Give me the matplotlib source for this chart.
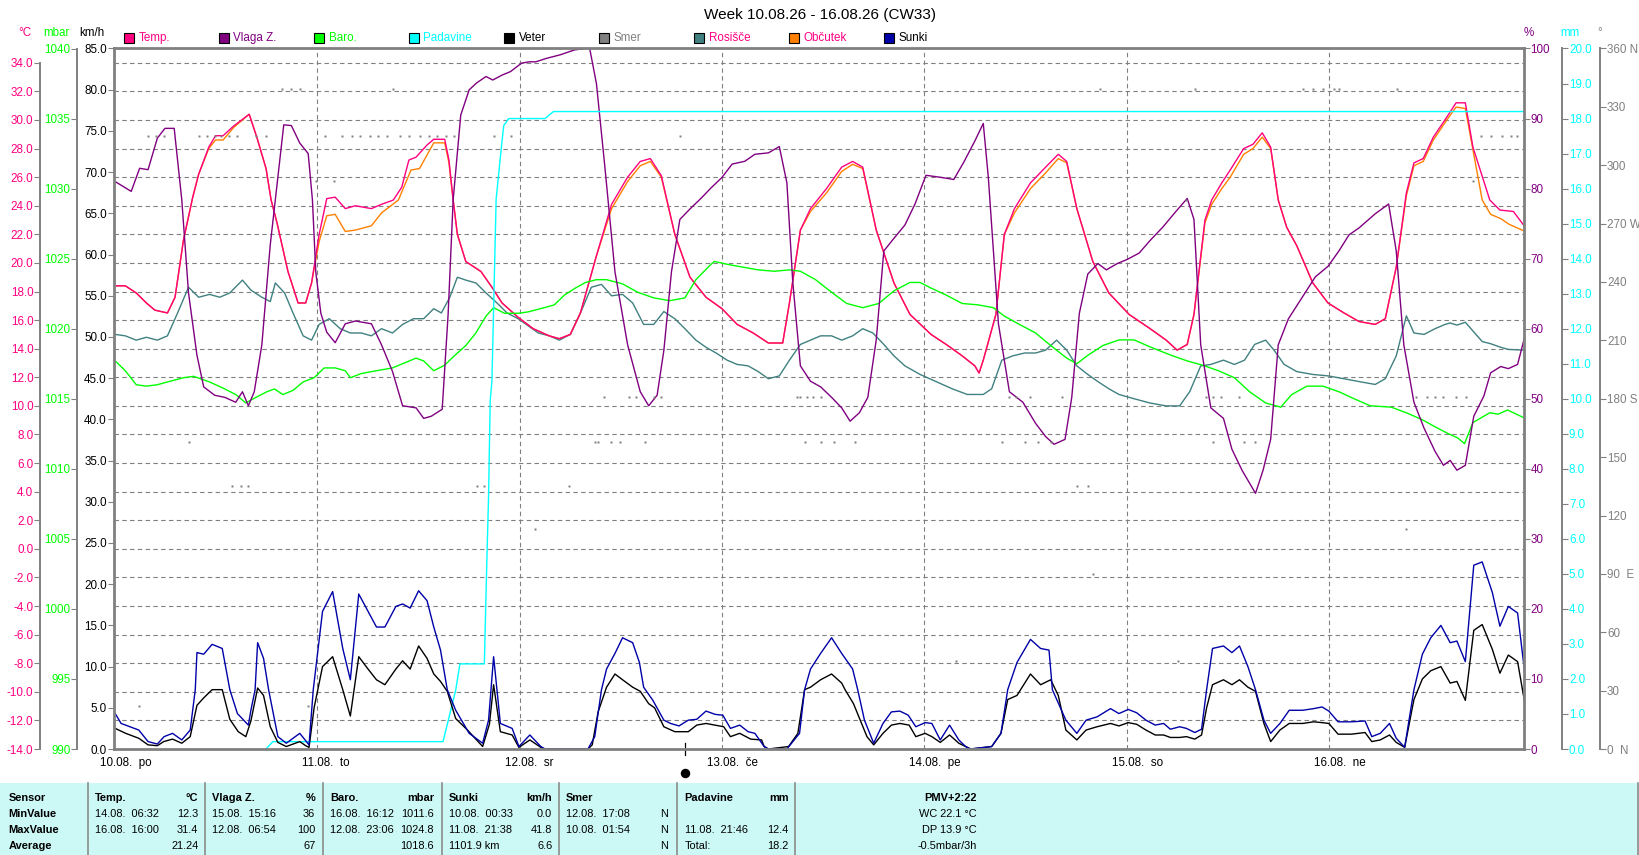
import matplotlib
matplotlib.use('Agg')
import matplotlib.pyplot as plt
import matplotlib.ticker as mticker
from matplotlib.patches import Rectangle
from matplotlib.lines import Line2D
from matplotlib.transforms import blended_transform_factory

plt.rcParams['font.family'] = ['Liberation Sans', 'DejaVu Sans']

# ---------------- data (time = hours since 10.08. 00:00) ----------------
TITLE = 'Week 10.08.26 - 16.08.26 (CW33)'
DAY_LABELS = ['10.08.  po', '11.08.  to', '12.08.  sr', '13.08.  če',
              '14.08.  pe', '15.08.  so', '16.08.  ne']
DAY_START_H = [0, 24, 48, 72, 96, 120, 144]
NEW_MOON_H = 67.6

TEMP = [(0, 18.4), (1.2, 18.4), (2.5, 17.9), (3.7, 17.2), (4.7, 16.7), (6.2, 16.5), (7.1, 17.6),
        (8.1, 21.6), (9.2, 24.6), (9.9, 26.2), (11.1, 28.1), (11.9, 28.9), (12.8, 28.9), (14.1, 29.6),
        (15.9, 30.4), (16.8, 28.8), (17.9, 26.6), (18.5, 24.4), (19.2, 22.8), (20.5, 19.4), (21.7, 17.2),
        (22.6, 17.2), (23.3, 18.6), (24.2, 22.0), (25.1, 24.5), (26.1, 24.6), (27.3, 23.8), (28.5, 24.0),
        (30.4, 23.8), (31.6, 24.1), (33.0, 24.4), (34.0, 25.3), (34.85, 27.2), (35.7, 27.4), (37.0, 28.25),
        (37.8, 28.65), (39.1, 28.65), (39.6, 27.2), (40.1, 24.4), (40.6, 22.0), (41.6, 20.1), (43.4, 19.4),
        (44.7, 18.3), (45.9, 17.2), (47.8, 16.2), (49.6, 15.4), (51.5, 14.9), (52.7, 14.7), (54.0, 15.0),
        (55.2, 16.5), (57.1, 20.5), (58.9, 24.1), (60.8, 26.0), (62.3, 27.1), (63.5, 27.3), (64.8, 26.1),
        (66.4, 22.0), (68.2, 19.0), (70.1, 17.6), (72.0, 16.8), (73.8, 15.7), (75.7, 15.1), (77.5, 14.4),
        (79.2, 14.4), (80.0, 17.2), (81.3, 22.3), (82.5, 23.8), (84.4, 25.2), (86.2, 26.7), (87.5, 27.1),
        (88.7, 26.7), (90.3, 22.3), (92.4, 18.6), (94.3, 16.4), (96.8, 15.0), (98.6, 14.3), (100.5, 13.5),
        (102.0, 12.8), (102.5, 12.3), (103.0, 13.2), (104.5, 16.4), (105.5, 22.0), (106.7, 23.8),
        (108.6, 25.6), (110.4, 26.7), (111.9, 27.6), (112.9, 27.1), (114.1, 23.8), (116.0, 20.1),
        (117.9, 17.9), (120.3, 16.4), (122.8, 15.4), (124.7, 14.6), (126.0, 13.9), (127.2, 14.3),
        (128.0, 16.4), (129.3, 23.0), (130.1, 24.4), (131.3, 25.6), (132.3, 26.5), (133.9, 28.0),
        (135.0, 28.3), (136.1, 29.1), (137.1, 28.1), (138.0, 24.4), (139.0, 22.5), (140.2, 21.2),
        (142.1, 18.6), (143.9, 17.2), (145.8, 16.5), (147.6, 15.9), (149.5, 15.7), (150.7, 16.1),
        (152.0, 19.7), (153.2, 24.9), (154.1, 27.0), (155.2, 27.3), (156.4, 28.8), (158.0, 30.2),
        (159.1, 31.2), (160.2, 31.2), (161.1, 28.1), (163.1, 24.4), (164.3, 23.7), (165.9, 23.6),
        (167.3, 22.5)]

FEEL = [(0, 18.4), (1.2, 18.4), (2.5, 17.9), (3.7, 17.2), (4.7, 16.7), (6.2, 16.5), (7.1, 17.6),
        (8.1, 21.6), (9.2, 24.6), (9.9, 26.2), (11.1, 28.0), (11.9, 28.6), (12.8, 28.6), (14.1, 29.5),
        (15.9, 30.4), (16.8, 28.8), (17.9, 26.6), (18.5, 24.4), (19.2, 22.8), (20.5, 19.4), (21.7, 17.2),
        (22.6, 17.2), (23.3, 18.6), (24.2, 21.5), (25.1, 23.3), (26.1, 23.4), (27.3, 22.2), (28.5, 22.3),
        (30.4, 22.6), (31.6, 23.5), (33.6, 24.4), (35.1, 26.5), (36.1, 26.6), (37.0, 27.55), (37.8, 28.4),
        (39.1, 28.4), (39.6, 27.0), (40.1, 24.4), (40.6, 22.0), (41.6, 20.1), (43.4, 19.4),
        (44.7, 18.3), (45.9, 17.2), (47.8, 16.2), (49.6, 15.4), (51.5, 14.9), (52.7, 14.7), (54.0, 15.0),
        (55.2, 16.5), (57.1, 20.5), (58.9, 23.8), (60.8, 25.7), (62.3, 26.8), (63.5, 27.1), (64.8, 26.0),
        (66.4, 22.0), (68.2, 19.0), (70.1, 17.6), (72.0, 16.8), (73.8, 15.7), (75.7, 15.1), (77.5, 14.4),
        (79.2, 14.4), (80.0, 17.2), (81.3, 22.3), (82.5, 23.6), (84.4, 24.9), (86.2, 26.4), (87.5, 26.9),
        (88.7, 26.6), (90.3, 22.3), (92.4, 18.6), (94.3, 16.4), (96.8, 15.0), (98.6, 14.3), (100.5, 13.5),
        (102.0, 12.8), (102.5, 12.3), (103.0, 13.2), (104.5, 16.4), (105.5, 22.0), (106.7, 23.5),
        (108.6, 25.2), (110.4, 26.3), (111.9, 27.3), (112.9, 27.0), (114.1, 23.8), (116.0, 20.1),
        (117.9, 17.9), (120.3, 16.4), (122.8, 15.4), (124.7, 14.6), (126.0, 13.9), (127.2, 14.3),
        (128.0, 16.4), (129.3, 22.8), (130.1, 24.1), (131.3, 25.2), (132.3, 26.0), (133.9, 27.6),
        (135.0, 28.0), (136.1, 28.8), (137.1, 28.0), (138.0, 24.4), (139.0, 22.5), (140.2, 21.2),
        (142.1, 18.6), (143.9, 17.2), (145.8, 16.5), (147.6, 15.9), (149.5, 15.7), (150.7, 16.1),
        (152.0, 19.7), (153.2, 24.7), (154.1, 26.8), (155.2, 27.1), (156.4, 28.6), (158.0, 30.0),
        (159.1, 30.9), (160.2, 30.8), (162.2, 24.4), (163.2, 23.4), (164.4, 23.1), (165.4, 22.7),
        (167.3, 22.2)]

DEW = [(0, 15.0), (1.2, 14.9), (2.5, 14.6), (3.7, 14.8), (5.0, 14.6), (6.2, 14.9), (7.4, 16.5),
       (8.7, 18.3), (9.9, 17.6), (11.2, 17.8), (12.4, 17.6), (13.6, 17.9), (15.1, 18.8), (16.1, 18.1),
       (17.4, 17.6), (18.4, 17.3), (19.0, 18.6), (20.1, 17.9), (21.1, 16.5), (22.3, 14.9), (23.3, 14.6),
       (24.2, 15.7), (25.4, 16.1), (26.7, 15.4), (27.9, 15.1), (29.2, 15.1), (30.4, 14.9), (31.6, 15.4),
       (32.9, 15.1), (34.1, 15.7), (35.4, 16.1), (36.6, 16.1), (37.8, 16.8), (38.7, 16.5), (39.7, 17.6),
       (40.6, 19.0), (41.6, 18.8), (42.8, 18.6), (44.0, 17.9), (45.3, 17.2), (46.5, 16.5), (47.8, 16.1),
       (49.0, 15.6), (50.2, 15.1), (51.5, 14.9), (52.7, 14.6), (54.0, 15.0), (55.2, 16.5), (56.5, 18.3),
       (57.7, 18.5), (58.9, 17.7), (60.2, 17.8), (61.4, 17.2), (62.7, 15.7), (63.9, 15.7), (65.1, 16.6),
       (66.4, 16.1), (67.6, 15.4), (68.9, 14.6), (70.1, 14.1), (71.3, 13.7), (72.6, 13.2), (73.8, 12.9),
       (75.1, 12.8), (76.3, 12.4), (77.5, 11.9), (78.8, 12.1), (80.0, 13.2), (81.3, 14.3), (82.5, 14.6),
       (83.7, 14.9), (85.0, 14.9), (86.2, 14.6), (87.5, 14.9), (88.7, 15.4), (89.9, 15.1), (91.2, 14.3),
       (92.4, 13.5), (93.7, 12.8), (95.5, 12.2), (97.4, 11.7), (99.3, 11.2), (101.1, 10.8), (103.0, 10.8),
       (104.0, 11.2), (105.2, 13.2), (106.5, 13.5), (107.9, 13.7), (109.2, 13.7), (110.4, 13.9),
       (111.7, 14.6), (112.9, 13.9), (114.1, 12.8), (115.4, 12.2), (116.6, 11.7), (117.9, 11.2),
       (119.1, 10.8), (120.9, 10.5), (122.8, 10.2), (124.7, 10.0), (126.3, 10.0), (127.5, 11.0),
       (128.8, 12.8), (130.0, 12.9), (131.5, 13.2), (132.8, 12.9), (134.0, 13.2), (135.2, 14.3),
       (136.5, 14.6), (137.5, 13.9), (138.7, 12.9), (140.2, 12.4), (142.1, 12.2), (143.9, 12.1),
       (145.8, 11.9), (147.6, 11.7), (149.5, 11.5), (150.7, 11.9), (152.0, 13.5), (153.2, 16.3),
       (154.1, 15.1), (155.3, 15.0), (156.6, 15.4), (157.8, 15.7), (158.4, 15.8), (159.2, 15.65),
       (160.2, 15.85), (162.2, 14.5), (163.2, 14.35), (164.4, 14.1), (165.3, 13.95), (167.3, 13.9)]

HUM = [(0, 81.0), (0.95, 80.3), (1.9, 79.6), (2.9, 82.9), (3.9, 82.7), (5.0, 87.2), (5.9, 88.6),
       (7.0, 88.6), (7.9, 78.4), (8.7, 65.1), (9.7, 56.2), (10.5, 51.7), (11.8, 50.5), (13.0, 50.2),
       (14.3, 49.5), (15.1, 51.0), (15.8, 49.0), (16.5, 51.0), (17.4, 57.7), (18.4, 72.0), (19.0, 78.4),
       (20.0, 89.1), (20.9, 89.0), (21.9, 86.5), (22.9, 85.0), (23.4, 78.4), (23.8, 68.1), (24.4, 62.2),
       (25.1, 59.5), (26.1, 58.0), (27.3, 60.7), (28.5, 61.1), (30.4, 60.7), (31.6, 57.7), (32.9, 53.9),
       (34.1, 49.0), (35.7, 48.7), (36.6, 47.2), (37.5, 47.5), (38.8, 48.5), (39.5, 62.0), (40.1, 78.4),
       (41.0, 90.5), (42.0, 94.1), (42.9, 95.1), (44.0, 96.0), (44.8, 95.5), (45.9, 96.2), (46.9, 96.7),
       (48.2, 97.9), (49.1, 98.1), (49.9, 98.1), (51.2, 98.6), (52.8, 99.1), (54.5, 99.8), (55.8, 100),
       (56.3, 100), (57.1, 95.0), (58.1, 83.1), (59.3, 68.1), (60.8, 57.7), (62.3, 51.0), (63.3, 49.0),
       (64.3, 50.5), (65.1, 56.9), (66.0, 68.1), (67.0, 75.6), (68.2, 77.1), (69.5, 78.6), (70.7, 80.1),
       (72.0, 81.6), (73.2, 83.5), (74.7, 83.9), (75.9, 84.9), (77.5, 85.1), (78.8, 86.0), (79.7, 80.8),
       (80.4, 66.6), (81.3, 54.7), (82.5, 52.5), (83.7, 51.7), (85.0, 50.2), (86.2, 48.7), (87.2, 46.8),
       (88.3, 48.0), (89.3, 50.2), (90.3, 58.4), (91.2, 71.1), (92.4, 72.9), (93.7, 74.8), (94.9, 77.8),
       (96.2, 81.9), (98.0, 81.6), (99.5, 81.3), (100.7, 83.8), (102.0, 86.8), (103.0, 89.3),
       (103.6, 81.6), (104.8, 60.7), (106.1, 51.0), (107.7, 49.5), (109.2, 46.5), (110.4, 44.6),
       (111.4, 43.5), (112.7, 44.2), (113.5, 50.2), (114.4, 62.2), (115.4, 67.8), (116.6, 69.3),
       (117.6, 68.4), (118.9, 69.3), (120.1, 69.9), (121.5, 70.8), (122.8, 72.6), (124.3, 74.5),
       (125.9, 76.8), (127.2, 78.6), (128.0, 75.6), (128.8, 57.7), (130.0, 48.7), (131.5, 47.2),
       (132.5, 42.8), (133.7, 39.8), (135.3, 36.5), (136.2, 39.8), (137.1, 44.2), (138.0, 57.7),
       (139.2, 61.4), (140.8, 64.4), (142.4, 67.4), (143.9, 68.9), (145.2, 71.1), (146.4, 73.4),
       (147.6, 74.4), (149.5, 76.4), (151.1, 77.8), (152.0, 71.1), (152.9, 57.7), (154.1, 49.5),
       (155.3, 45.8), (156.6, 42.5), (157.6, 40.5), (158.4, 41.2), (159.2, 39.8), (160.2, 40.5),
       (161.2, 47.5), (162.4, 50.4), (163.2, 53.7), (164.4, 54.6), (165.3, 54.3), (166.4, 54.9),
       (167.3, 59.1)]

BARO = [(0, 1017.7), (1.2, 1017.0), (2.5, 1016.0), (3.7, 1015.9), (5.0, 1016.0), (6.2, 1016.2),
        (8.1, 1016.5), (9.3, 1016.6), (11.2, 1016.2), (13.0, 1015.7), (14.3, 1015.3), (15.5, 1014.7),
        (16.7, 1015.1), (18.0, 1015.5), (18.9, 1015.7), (19.9, 1015.3), (21.1, 1015.6), (22.3, 1016.2),
        (23.6, 1016.5), (24.8, 1017.2), (26.1, 1017.2), (27.3, 1017.0), (27.9, 1016.5), (29.2, 1016.8),
        (31.0, 1017.0), (32.9, 1017.2), (34.1, 1017.5), (35.7, 1017.9), (36.6, 1017.7), (37.8, 1017.0),
        (39.1, 1017.4), (40.3, 1018.1), (41.6, 1018.8), (42.8, 1019.7), (44.0, 1020.9), (44.9, 1021.5),
        (46.2, 1021.1), (47.8, 1021.1), (49.0, 1021.2), (50.9, 1021.5), (52.1, 1021.7), (53.3, 1022.4),
        (54.6, 1022.9), (55.8, 1023.3), (57.1, 1023.5), (58.3, 1023.5), (60.2, 1023.2), (62.0, 1022.6),
        (63.9, 1022.2), (65.8, 1022.0), (67.6, 1022.2), (68.9, 1023.5), (70.7, 1024.6), (71.1, 1024.8),
        (72.6, 1024.6), (74.4, 1024.4), (76.3, 1024.2), (78.2, 1024.1), (80.0, 1024.2), (81.3, 1024.1),
        (83.1, 1023.5), (85.0, 1022.6), (86.8, 1021.8), (88.7, 1021.5), (90.6, 1021.8), (92.4, 1022.7),
        (94.3, 1023.3), (95.5, 1023.3), (96.8, 1022.9), (98.6, 1022.4), (100.5, 1021.8), (102.4, 1021.7),
        (104.2, 1021.5), (105.5, 1020.9), (107.3, 1020.3), (109.2, 1019.7), (111.0, 1018.8),
        (112.9, 1017.9), (114.1, 1017.5), (115.4, 1018.1), (117.2, 1018.8), (119.1, 1019.2),
        (120.9, 1019.2), (122.8, 1018.7), (125.3, 1018.1), (127.2, 1017.7), (129.0, 1017.4),
        (130.9, 1017.0), (132.8, 1016.5), (134.6, 1015.5), (136.5, 1014.7), (138.3, 1014.4),
        (139.6, 1015.3), (141.4, 1015.9), (143.3, 1015.9), (145.2, 1015.5), (147.0, 1015.0),
        (148.9, 1014.5), (151.4, 1014.4), (153.2, 1014.0), (155.1, 1013.5), (156.6, 1013.0),
        (158.2, 1012.5), (159.3, 1012.2), (160.1, 1011.8), (161.1, 1013.3), (163.1, 1014.0),
        (164.1, 1013.9), (165.2, 1014.2), (167.3, 1013.6)]

RAIN = [(17.9, 0.0), (18.7, 0.21), (38.9, 0.21), (40.4, 1.68), (40.9, 2.43), (43.8, 2.43), (44.1, 5.4),
        (44.3, 7.2), (44.4, 8.63), (44.5, 9.96), (44.7, 10.5), (45.2, 15.7), (45.7, 16.9), (46.1, 17.8),
        (46.7, 18.0), (51.0, 18.0), (52.0, 18.2), (167.3, 18.2)]

GUST = [(0, 4.3), (0.7, 3.1), (2.8, 2.3), (3.9, 0.9), (5.0, 0.6), (5.8, 1.5), (6.8, 1.9), (7.9, 1.1),
        (8.9, 2.3), (9.5, 7.2), (9.7, 11.7), (10.5, 11.5), (11.5, 12.7), (12.7, 12.2), (13.6, 7.2),
        (14.5, 4.3), (15.8, 2.9), (16.1, 4.7), (16.6, 7.2), (16.9, 12.9), (17.6, 11.0), (18.2, 7.2),
        (19.3, 1.5), (20.3, 0.7), (21.9, 1.9), (23.0, 0.5), (23.5, 7.2), (24.6, 16.7), (25.8, 19.1),
        (27.0, 12.2), (27.9, 8.4), (28.9, 18.8), (30.0, 16.7), (31.0, 14.8), (32.0, 14.8), (33.3, 17.3),
        (34.1, 17.6), (35.0, 17.1), (36.0, 19.2), (37.0, 18.0), (37.8, 14.8), (38.6, 12.0), (39.4, 7.2),
        (40.4, 4.7), (42.0, 1.9), (43.6, 0.7), (44.3, 3.5), (44.9, 11.2), (45.7, 3.1), (47.1, 2.5),
        (47.9, 0.3), (49.2, 1.7), (50.5, 0.3), (51.0, 0), (56.1, 0), (56.9, 1.5), (57.7, 7.2), (58.3, 9.7),
        (59.3, 11.6), (60.2, 13.5), (61.4, 12.9), (62.2, 10.5), (62.7, 7.5), (63.8, 5.9), (65.1, 3.5),
        (65.9, 3.1), (66.9, 2.8), (68.0, 3.5), (69.0, 3.6), (70.1, 4.6), (71.2, 4.2), (72.1, 4.1),
        (73.0, 2.5), (74.1, 2.9), (75.1, 2.1), (75.9, 1.9), (77.0, 0.3), (77.5, 0), (79.7, 0),
        (81.2, 1.9), (81.8, 7.2), (82.5, 9.7), (83.7, 11.6), (85.0, 13.5), (86.2, 11.6), (87.5, 9.7),
        (88.1, 7.2), (88.9, 3.5), (90.0, 0.7), (91.1, 3.1), (92.1, 4.5), (93.1, 4.6), (94.1, 4.1),
        (95.0, 2.7), (96.1, 3.2), (96.9, 3.1), (97.9, 1.1), (99.0, 2.9), (100.1, 1.1), (100.9, 0.3),
        (101.5, 0), (104.0, 0.3), (105.1, 1.9), (105.9, 7.2), (107.0, 10.5), (108.6, 13.3),
        (109.8, 12.2), (110.8, 12.0), (111.2, 7.2), (112.8, 3.5), (114.1, 1.9), (115.2, 3.5),
        (116.5, 3.9), (118.1, 4.9), (119.1, 4.3), (120.2, 4.8), (121.2, 4.4), (122.3, 3.5), (123.4, 2.9),
        (124.4, 3.1), (125.2, 2.4), (126.3, 2.7), (127.1, 2.5), (128.1, 2.0), (128.9, 2.4), (129.5, 7.2),
        (130.2, 12.2), (131.5, 12.5), (132.5, 11.7), (133.4, 12.5), (134.4, 10.0), (135.3, 7.2),
        (136.3, 3.5), (137.1, 1.9), (138.2, 3.1), (139.3, 4.7), (140.9, 4.7), (142.2, 4.9), (143.2, 5.1),
        (144.0, 4.6), (145.1, 3.3), (146.7, 3.3), (148.3, 3.4), (149.1, 1.5), (150.1, 1.9), (151.2, 3.1),
        (152.0, 1.3), (153.0, 0.2), (154.1, 7.2), (155.1, 11.5), (156.1, 13.5), (157.3, 15.0),
        (158.4, 12.9), (159.2, 13.1), (160.2, 10.6), (161.2, 22.3), (162.2, 22.7), (163.4, 19.0),
        (164.3, 14.9), (165.3, 17.3), (166.4, 16.5), (167.3, 8.8)]

WIND = [(0, 2.5), (1.25, 1.9), (2.8, 1.3), (3.9, 0.5), (5.0, 0.4), (5.75, 0.9), (6.8, 1.2), (7.9, 0.7),
        (8.9, 1.5), (9.7, 5.3), (10.5, 6.2), (11.5, 7.2), (12.7, 7.2), (13.6, 3.6), (14.6, 2.1),
        (15.5, 1.5), (16.1, 3.4), (16.9, 7.4), (17.6, 6.5), (18.4, 2.7), (19.3, 0.8), (20.3, 0.3),
        (21.9, 0.9), (22.6, 0.4), (23.0, 0.2), (23.6, 5.0), (24.6, 10.0), (25.8, 11.2), (27.0, 7.2),
        (27.9, 4.0), (28.9, 11.2), (30.0, 9.7), (31.0, 8.4), (32.0, 7.8), (33.3, 9.7), (34.1, 10.7),
        (35.0, 9.7), (36.0, 12.5), (37.0, 11.0), (37.8, 9.1), (38.6, 8.2), (39.4, 7.0), (40.4, 3.7),
        (41.8, 2.3), (43.6, 0.3), (44.4, 3.0), (44.9, 7.8), (45.7, 2.1), (47.1, 1.7), (47.9, 0.2),
        (49.2, 1.1), (50.5, 0.2), (51.0, 0), (56.1, 0), (56.6, 0.5), (57.3, 4.5), (58.3, 7.5), (59.3, 9.1),
        (60.2, 8.4), (61.4, 7.5), (62.3, 7.0), (63.3, 5.5), (64.0, 5.0), (65.1, 2.7), (66.4, 2.1),
        (68.0, 2.1), (69.0, 2.9), (70.1, 3.1), (72.2, 2.7), (73.0, 1.5), (74.1, 1.9), (75.4, 1.2),
        (76.7, 1.1), (77.0, 0.3), (77.5, 0), (79.9, 0.3), (81.0, 1.9), (81.8, 7.2), (82.5, 7.5),
        (83.7, 8.4), (85.0, 9.1), (86.2, 8.0), (86.6, 7.2), (87.6, 5.5), (88.4, 3.5), (89.2, 1.5),
        (90.0, 0.5), (91.1, 1.9), (92.1, 2.9), (93.1, 3.1), (94.2, 2.9), (95.0, 1.5), (96.1, 1.9),
        (96.9, 1.5), (97.9, 0.8), (99.0, 1.7), (100.1, 0.7), (100.9, 0.3), (101.5, 0), (104.0, 0.3),
        (105.1, 1.9), (105.9, 6.0), (107.0, 6.5), (108.6, 9.1), (109.8, 7.8), (111.0, 8.4), (111.9, 6.5),
        (112.8, 2.3), (114.1, 1.1), (115.2, 2.3), (116.5, 2.7), (118.1, 3.1), (119.1, 2.8), (120.2, 3.2),
        (121.2, 3.0), (122.3, 2.3), (123.4, 1.7), (124.4, 1.7), (125.2, 1.4), (126.3, 1.4), (127.1, 1.5),
        (128.1, 1.2), (128.9, 1.7), (129.5, 5.0), (130.2, 7.8), (131.5, 8.4), (132.5, 7.8), (133.4, 8.4),
        (134.4, 7.5), (135.3, 7.0), (136.3, 3.1), (137.1, 0.9), (138.2, 2.3), (139.3, 3.1), (140.9, 3.1),
        (142.2, 3.3), (143.2, 3.2), (144.0, 3.1), (145.1, 1.8), (146.7, 1.8), (148.3, 2.0), (149.1, 0.9),
        (150.1, 1.1), (151.2, 1.7), (152.0, 0.8), (153.0, 0.2), (154.1, 6.0), (155.1, 8.5), (156.1, 9.5),
        (157.3, 10.0), (158.4, 8.0), (159.2, 8.2), (160.2, 5.9), (161.2, 14.4), (162.2, 15.1),
        (163.4, 12.1), (164.3, 9.2), (165.3, 11.4), (166.4, 10.6), (167.3, 5.3)]

DIRECTION = [(2.8, 22), (3.9, 315), (4.9, 315), (5.8, 315), (8.8, 158), (9.9, 315), (10.9, 315),
             (11.8, 315), (12.6, 315), (13.5, 315), (14.4, 315), (13.8, 135), (14.9, 135), (15.8, 135),
             (16.7, 315), (17.9, 315), (19.8, 339), (20.8, 339), (21.9, 339), (22.9, 22), (23.8, 292),
             (24.9, 315), (26.0, 292), (26.9, 315), (28.1, 315), (29.1, 315), (30.2, 315), (31.2, 315),
             (32.3, 315), (33.0, 339), (33.8, 315), (34.9, 315), (36.2, 315), (37.2, 315), (38.2, 315),
             (39.3, 315), (40.2, 315), (42.9, 135), (43.8, 135), (44.9, 315), (47.0, 315), (49.8, 113),
             (53.9, 135), (56.9, 158), (57.3, 158), (58.0, 181), (58.8, 158), (59.9, 158), (61.0, 181),
             (61.8, 181), (62.9, 158), (63.9, 181), (64.8, 181), (67.0, 315), (80.9, 181), (81.3, 181),
             (82.1, 181), (82.8, 181), (83.7, 181), (81.9, 158), (83.7, 158), (85.3, 158), (87.8, 158),
             (99.8, 45), (105.2, 158), (106.1, 181), (106.9, 181), (107.9, 158), (108.6, 181), (109.5, 158),
             (111.0, 158), (112.3, 181), (114.1, 135), (115.4, 135), (116.0, 90), (116.8, 339), (126.1, 45),
             (127.1, 282), (128.1, 339), (129.4, 181), (130.2, 181), (130.2, 158), (131.2, 181), (133.3, 181),
             (133.9, 158), (135.2, 158), (140.9, 339), (142.1, 339), (143.3, 339), (144.6, 339), (145.2, 339),
             (152.1, 339), (153.2, 113), (154.4, 181), (155.7, 181), (156.6, 181), (157.6, 181), (159.1, 181),
             (160.3, 181), (161.1, 292), (162.1, 315), (163.3, 315), (164.5, 315), (165.6, 315), (166.3, 315)]

TEMP_TICKS = list(range(-14, 35, 2))
BARO_TICKS = list(range(990, 1041, 5))
KMH_TICKS = list(range(0, 86, 5))
HUM_TICKS = list(range(0, 101, 10))
RAIN_TICKS = list(range(0, 21, 1))
DIR_TICKS = list(range(0, 361, 30))
DIR_LABELS = ['0  N', '30', '60', '90  E', '120', '150', '180 S', '210', '240', '270 W', '300', '330', '360 N']

LEGEND_NAMES = ['Temp.', 'Vlaga Z.', 'Baro.', 'Padavine', 'Veter', 'Smer', 'Rosišče', 'Občutek', 'Sunki']

TABLE_ROW_NAMES = ['Sensor', 'MinValue', 'MaxValue', 'Average']
TABLE_COLS = [
    ('Temp.', '°C', [('14.08.  06:32', '12.3'), ('16.08.  16:00', '31.4'), ('', '21.24')]),
    ('Vlaga Z.', '%', [('15.08.  15:16', '36'), ('12.08.  06:54', '100'), ('', '67')]),
    ('Baro.', 'mbar', [('16.08.  16:12', '1011.6'), ('12.08.  23:06', '1024.8'), ('', '1018.6')]),
    ('Sunki', 'km/h', [('10.08.  00:33', '0.0'), ('11.08.  21:38', '41.8'), ('1101.9 km', '6.6')]),
    ('Smer', '', [('12.08.  17:08', 'N'), ('10.08.  01:54', 'N'), ('', 'N')]),
    ('Padavine', 'mm', [('', ''), ('11.08.  21:46', '12.4'), ('Total:', '18.2')]),
]
PMV_LINES = ['PMV+2:22', 'WC 22.1 °C', 'DP 13.9 °C', '-0.5mbar/3h']

# ---------------- style ----------------
C_TEMP, C_HUM, C_BARO, C_RAIN = '#FF0080', '#800080', '#00FF00', '#00FFFF'
C_WIND, C_DIR, C_DEW, C_FEEL, C_GUST = '#000000', '#808080', '#408080', '#FF8000', '#0000A8'
LEGEND_COLORS = [C_TEMP, C_HUM, C_BARO, C_RAIN, C_WIND, C_DIR, C_DEW, C_FEEL, C_GUST]
LEGEND_TEXTC = [C_TEMP, C_HUM, C_BARO, C_RAIN, '#000000', C_DIR, C_TEMP, C_TEMP, '#000000']
GRAY = '#808080'
FS = 8.4
FS_TAB = 7.9
LW = 1.0

W, H = 1639, 855
PL, PR, PT, PB = 113.6, 1523.5, 48.5, 749.0
PX2PT = 0.72


def fx(px):
    return px / W


def fy(py):
    return 1 - py / H


fig = plt.figure(figsize=(W / 100, H / 100), dpi=100)
fig.patch.set_facecolor('white')
rect = [fx(PL), fy(PB), fx(PR) - fx(PL), fy(PT) - fy(PB)]

# base axis: temperature (°C)
ax = fig.add_axes(rect)
ax.set_xlim(-0.19, 167.1)
ax.set_ylim(-14, 35)
ax.patch.set_visible(False)
for s in ['top', 'right', 'bottom']:
    ax.spines[s].set_visible(False)
ax.spines['left'].set_position(('outward', (PL - 40.3) * PX2PT))
ax.spines['left'].set_bounds(-14, 34)
ax.spines['left'].set_color(GRAY)
ax.spines['left'].set_linewidth(1.4)
ax.set_yticks(TEMP_TICKS)
ax.yaxis.set_major_formatter(mticker.FormatStrFormatter('%.1f'))
ax.tick_params(axis='y', color=GRAY, labelcolor=C_TEMP, length=4.0, width=0.8, pad=1, labelsize=FS)
ax.tick_params(axis='x', bottom=False, labelbottom=False)

dash = (0, (4, 3))
for t in TEMP_TICKS[1:]:
    ax.axhline(t, color=GRAY, lw=0.8, ls=dash, zorder=0)
for d in DAY_START_H[1:]:
    ax.axvline(d, color=GRAY, lw=0.8, ls=dash, zorder=0)

ax.plot(*zip(*DEW), color=C_DEW, lw=LW)
ax.plot(*zip(*FEEL), color=C_FEEL, lw=LW)
ax.plot(*zip(*TEMP), color=C_TEMP, lw=LW)


def make_twin(side, outward, ylim, ticks, fmt, labelcolor, spine_visible=True):
    a = ax.twinx()
    a.set_ylim(*ylim)
    for s in ['top', 'bottom', 'left', 'right']:
        a.spines[s].set_visible(False)
    if side == 'left':
        a.yaxis.set_ticks_position('left')
    else:
        a.yaxis.set_ticks_position('right')
    sp = a.spines[side]
    sp.set_position(('outward', outward))
    sp.set_visible(spine_visible)
    sp.set_color(GRAY)
    sp.set_linewidth(1.4)
    a.set_yticks(ticks)
    if isinstance(fmt, list):
        a.yaxis.set_major_formatter(mticker.FixedFormatter(fmt))
    else:
        a.yaxis.set_major_formatter(mticker.FormatStrFormatter(fmt))
    a.tick_params(axis='y', color=GRAY, labelcolor=labelcolor, length=4.0, width=0.8, pad=1,
                  labelsize=FS)
    return a


axb = make_twin('left', (PL - 77.3) * PX2PT, (990, 1040), BARO_TICKS, '%d', C_BARO)
axb.plot(*zip(*BARO), color=C_BARO, lw=LW)

axh = make_twin('right', 0, (0, 100), HUM_TICKS, '%d', C_HUM, spine_visible=False)
axh.plot(*zip(*HUM), color=C_HUM, lw=LW)

axr = make_twin('right', (1562 - PR) * PX2PT, (0, 20), RAIN_TICKS, '%.1f', C_RAIN)
axr.plot(*zip(*RAIN), color=C_RAIN, lw=LW)

axd = make_twin('right', (1600 - PR) * PX2PT, (0, 360), DIR_TICKS, DIR_LABELS, GRAY)
axd.plot(*zip(*DIRECTION), ls='none', marker='s', ms=1.7, color=C_DIR, mec='none')

axk = make_twin('left', 0, (0, 85), KMH_TICKS, '%.1f', '#000000')
for s in ['top', 'bottom', 'left', 'right']:
    axk.spines[s].set_visible(True)
    axk.spines[s].set_color(GRAY)
    axk.spines[s].set_linewidth(2.0)
    axk.spines[s].set_zorder(5)
axk.spines['left'].set_position(('outward', 0))
axk.plot(*zip(*WIND), color=C_WIND, lw=LW)
axk.plot(*zip(*GUST), color=C_GUST, lw=LW)

# day labels and new-moon marker below the plot
trans = blended_transform_factory(axk.transData, axk.transAxes)
for d, lab in zip(DAY_START_H, DAY_LABELS):
    axk.text(d - 1.78, (PB - 763) / (PB - PT), lab, transform=trans, ha='left', va='center',
             fontsize=FS, color='#000000', clip_on=False)
axk.plot([NEW_MOON_H, NEW_MOON_H], [(PB - 743) / (PB - PT), (PB - 755) / (PB - PT)],
         transform=trans, color='black', lw=0.9, clip_on=False)
axk.plot([NEW_MOON_H], [(PB - 773) / (PB - PT)], transform=trans, marker='o', ms=5.8,
         color='black', clip_on=False)

# title, units, legend
fig.text(fx(820.5), fy(15), TITLE, ha='center', va='center', fontsize=11, color='#000000')
for txt, x, c in [('°C', 25, C_TEMP), ('mbar', 56, C_BARO), ('km/h', 92, '#000000'),
                  ('%', 1528.5, C_HUM), ('mm', 1569.5, C_RAIN), ('°', 1600, GRAY)]:
    fig.text(fx(x), fy(33), txt, ha='center', va='center', fontsize=FS, color=c)

for i, (name, col, tcol) in enumerate(zip(LEGEND_NAMES, LEGEND_COLORS, LEGEND_TEXTC)):
    x0 = 124 + 95 * i
    fig.add_artist(Rectangle((fx(x0), fy(42.7)), 10 / W, 10 / H, transform=fig.transFigure,
                             facecolor=col, edgecolor='black', lw=0.8))
    fig.text(fx(x0 + 14.5), fy(37.7), name, ha='left', va='center', fontsize=FS, color=tcol)

# statistics table
TT = 783
fig.add_artist(Rectangle((0, 0), 1, fy(TT), transform=fig.transFigure,
                         facecolor='#CCF8F6', edgecolor='none', zorder=0))
for xs in [88.3, 205.3, 323.3, 441.7, 559.3, 677.3, 795.3, 1637.5]:
    fig.add_artist(Line2D([fx(xs), fx(xs)], [fy(TT), 0], transform=fig.transFigure,
                          color='#8C8C8C', lw=1.2))
ROW_Y = [798, 814, 830, 846]
for name, y in zip(TABLE_ROW_NAMES, ROW_Y):
    fig.text(fx(8.3), fy(y), name, ha='left', va='center', fontsize=FS_TAB, fontweight='bold')
COL_L = [95, 212, 330.3, 448.7, 566, 684.7]
COL_R = [198.3, 315.3, 434, 552.3, 668.3, 788.3]
for (hdr, unit, rows), xl, xr in zip(TABLE_COLS, COL_L, COL_R):
    fig.text(fx(xl), fy(ROW_Y[0]), hdr, ha='left', va='center', fontsize=FS_TAB, fontweight='bold')
    fig.text(fx(xr), fy(ROW_Y[0]), unit, ha='right', va='center', fontsize=FS_TAB, fontweight='bold')
    for (left, right), y in zip(rows, ROW_Y[1:]):
        fig.text(fx(xl), fy(y), left, ha='left', va='center', fontsize=FS_TAB)
        fig.text(fx(xr), fy(y), right, ha='right', va='center', fontsize=FS_TAB)
for k, (line, y) in enumerate(zip(PMV_LINES, ROW_Y)):
    fig.text(fx(977), fy(y), line, ha='right', va='center', fontsize=FS_TAB,
             fontweight='bold' if k == 0 else 'normal')

fig.savefig('out.png', dpi=100)
